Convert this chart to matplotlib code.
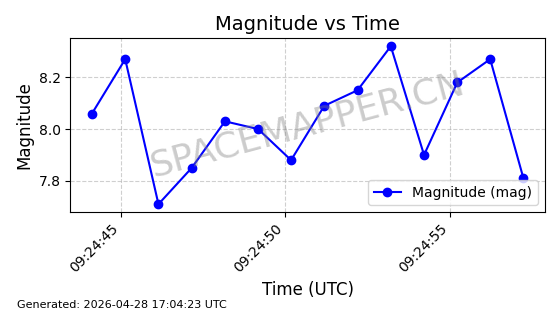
import numpy as np
import pandas as pd
import matplotlib
matplotlib.use('Agg')
import matplotlib.pyplot as plt
import matplotlib.dates as mdates

# seconds after 09:24:00 (UTC) for each observation
seconds = [44.12, 45.13, 46.14, 47.15, 48.16, 49.17, 50.17, 51.18, 52.19, 53.20, 54.21, 55.22, 56.22, 57.23]
magnitudes = [8.06, 8.27, 7.71, 7.85, 8.03, 8.00, 7.88, 8.09, 8.15, 8.32, 7.90, 8.18, 8.27, 7.81]
times = pd.Timestamp('2026-04-28 09:24:00') + pd.to_timedelta(seconds, unit='s')

fig, ax = plt.subplots(figsize=(5.6, 3.14), dpi=100)
ax.plot(times, magnitudes, 'o-', color='blue', markersize=6, label='Magnitude (mag)')

ax.set_title('Magnitude vs Time', fontsize=14)
ax.set_xlabel('Time (UTC)', fontsize=12)
ax.set_ylabel('Magnitude', fontsize=12)
ax.grid(True, linestyle='--', alpha=0.6)
ax.legend(loc='lower right')

ax.xaxis.set_major_formatter(mdates.DateFormatter('%H:%M:%S'))
plt.setp(ax.get_xticklabels(), rotation=45, ha='right')

# watermark
ax.text(0.5, 0.5, 'SPACEMAPPER.CN', transform=ax.transAxes, fontsize=26,
        color='gray', alpha=0.4, ha='center', va='center', rotation=15)

fig.text(0.03, 0.02, 'Generated: 2026-04-28 17:04:23 UTC', fontsize=8)

plt.tight_layout()
plt.savefig('out.png', dpi=100)
